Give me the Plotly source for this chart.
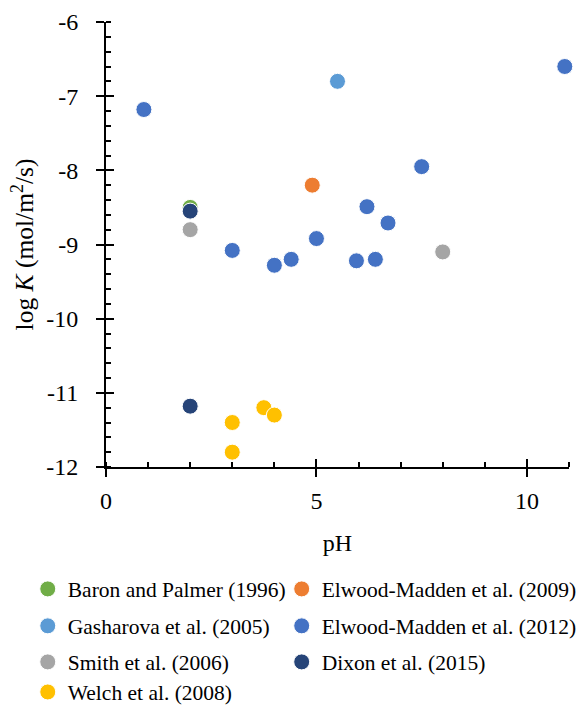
import plotly.graph_objects as go

# ---- data ----
series_names = [
    "Baron and Palmer (1996)",
    "Elwood-Madden et al. (2009)",
    "Gasharova et al. (2005)",
    "Elwood-Madden et al. (2012)",
    "Smith et al. (2006)",
    "Dixon et al. (2015)",
    "Welch et al. (2008)",
]
baron_ph = [2.0]
baron_logk = [-8.5]
em2009_ph = [4.9]
em2009_logk = [-8.2]
gasharova_ph = [5.5]
gasharova_logk = [-6.8]
em2012_ph = [0.9, 3.0, 4.0, 4.4, 5.0, 5.95, 6.2, 6.4, 6.7, 7.5, 10.9]
em2012_logk = [-7.18, -9.08, -9.28, -9.2, -8.92, -9.22, -8.49, -9.2, -8.71, -7.95, -6.6]
smith_ph = [2.0, 8.0]
smith_logk = [-8.8, -9.1]
dixon_ph = [2.0, 2.0]
dixon_logk = [-8.55, -11.18]
welch_ph = [3.0, 3.0, 3.75, 4.0]
welch_logk = [-11.4, -11.8, -11.2, -11.3]

x_range = [0, 11]
y_range = [-12, -6]
x_tick_vals = [0, 5, 10]
x_tick_text = ["0", "5", "10"]
y_tick_vals = [-12, -11, -10, -9, -8, -7, -6]
y_tick_text = ["-12", "-11", "-10", "-9", "-8", "-7", "-6"]

colors = ["#70AD47", "#ED7D31", "#5B9BD5", "#4472C4", "#A5A5A5", "#264478", "#FFC000"]
xs = [baron_ph, em2009_ph, gasharova_ph, em2012_ph, smith_ph, dixon_ph, welch_ph]
ys = [baron_logk, em2009_logk, gasharova_logk, em2012_logk, smith_logk, dixon_logk, welch_logk]
legend_ids = ["legend", "legend2", "legend3", "legend4", "legend5", "legend6", "legend7"]

FONT = "Liberation Serif, Times New Roman, serif"

fig = go.Figure()
for name, c, x, y, lg in zip(series_names, colors, xs, ys, legend_ids):
    fig.add_trace(go.Scatter(
        x=x, y=y, mode="markers", name=name, legend=lg,
        marker=dict(size=16, color=c, line=dict(color="white", width=1)),
        cliponaxis=False,
    ))

# helper trace so the overlay axes (for crossing major ticks) are drawn
fig.add_trace(go.Scatter(
    x=welch_ph[:1], y=welch_logk[:1], xaxis="x2", yaxis="y2", mode="markers",
    marker=dict(opacity=0), showlegend=False, hoverinfo="skip",
))

axis_common = dict(showgrid=False, zeroline=False, color="black")

fig.update_layout(
    width=581, height=706,
    margin=dict(l=106, r=12, t=22, b=239, autoexpand=False),
    paper_bgcolor="white", plot_bgcolor="white",
    font=dict(family=FONT, size=24, color="black"),
    xaxis=dict(
        **axis_common, range=x_range, tickmode="array",
        tickvals=x_tick_vals, ticktext=x_tick_text,
        ticks="outside", ticklen=8, tickwidth=2, tickcolor="black",
        showline=True, linewidth=2, linecolor="black",
        ticklabelstandoff=3,
        minor=dict(ticks="inside", ticklen=5, tickwidth=2, tickcolor="black",
                   tickmode="linear", dtick=1, tick0=0),
        title=dict(text="pH", font=dict(family=FONT, size=24), standoff=21),
        tickfont=dict(family=FONT, size=24),
    ),
    yaxis=dict(
        **axis_common, range=y_range, tickmode="array",
        tickvals=y_tick_vals, ticktext=y_tick_text,
        ticks="outside", ticklen=8, tickwidth=2, tickcolor="black",
        showline=True, linewidth=2, linecolor="black",
        ticklabelstandoff=13,
        minor=dict(ticks="inside", ticklen=5, tickwidth=2, tickcolor="black",
                   tickmode="linear", dtick=0.2, tick0=-12),
        title=dict(text="log <i>K</i> (mol/m<sup>2</sup>/s)", font=dict(family=FONT, size=25.5), standoff=5),
        tickfont=dict(family=FONT, size=24),
    ),
    xaxis2=dict(
        **axis_common, range=x_range, overlaying="x", anchor="y2", side="bottom",
        tickmode="array", tickvals=x_tick_vals, ticks="inside", ticklen=8, tickwidth=2,
        tickcolor="black", showticklabels=False, showline=False,
    ),
    yaxis2=dict(
        **axis_common, range=y_range, overlaying="y", anchor="x2", side="left",
        tickmode="array", tickvals=y_tick_vals, ticks="inside", ticklen=8, tickwidth=2,
        tickcolor="black", showticklabels=False, showline=False,
    ),
)

legend_style = dict(
    orientation="v", xanchor="left", yanchor="middle",
    font=dict(family=FONT, size=21.5, color="black"),
    bgcolor="rgba(0,0,0,0)", borderwidth=0, itemsizing="trace",
)
col_x = [-0.169, 0.3795]
row_y = [-0.274, -0.357, -0.438, -0.5056]
legend_layout = {}
for i, lg in enumerate(legend_ids):
    legend_layout[lg] = dict(**legend_style, x=col_x[i % 2], y=row_y[i // 2])
fig.update_layout(**legend_layout)

fig.write_html("out.html")
